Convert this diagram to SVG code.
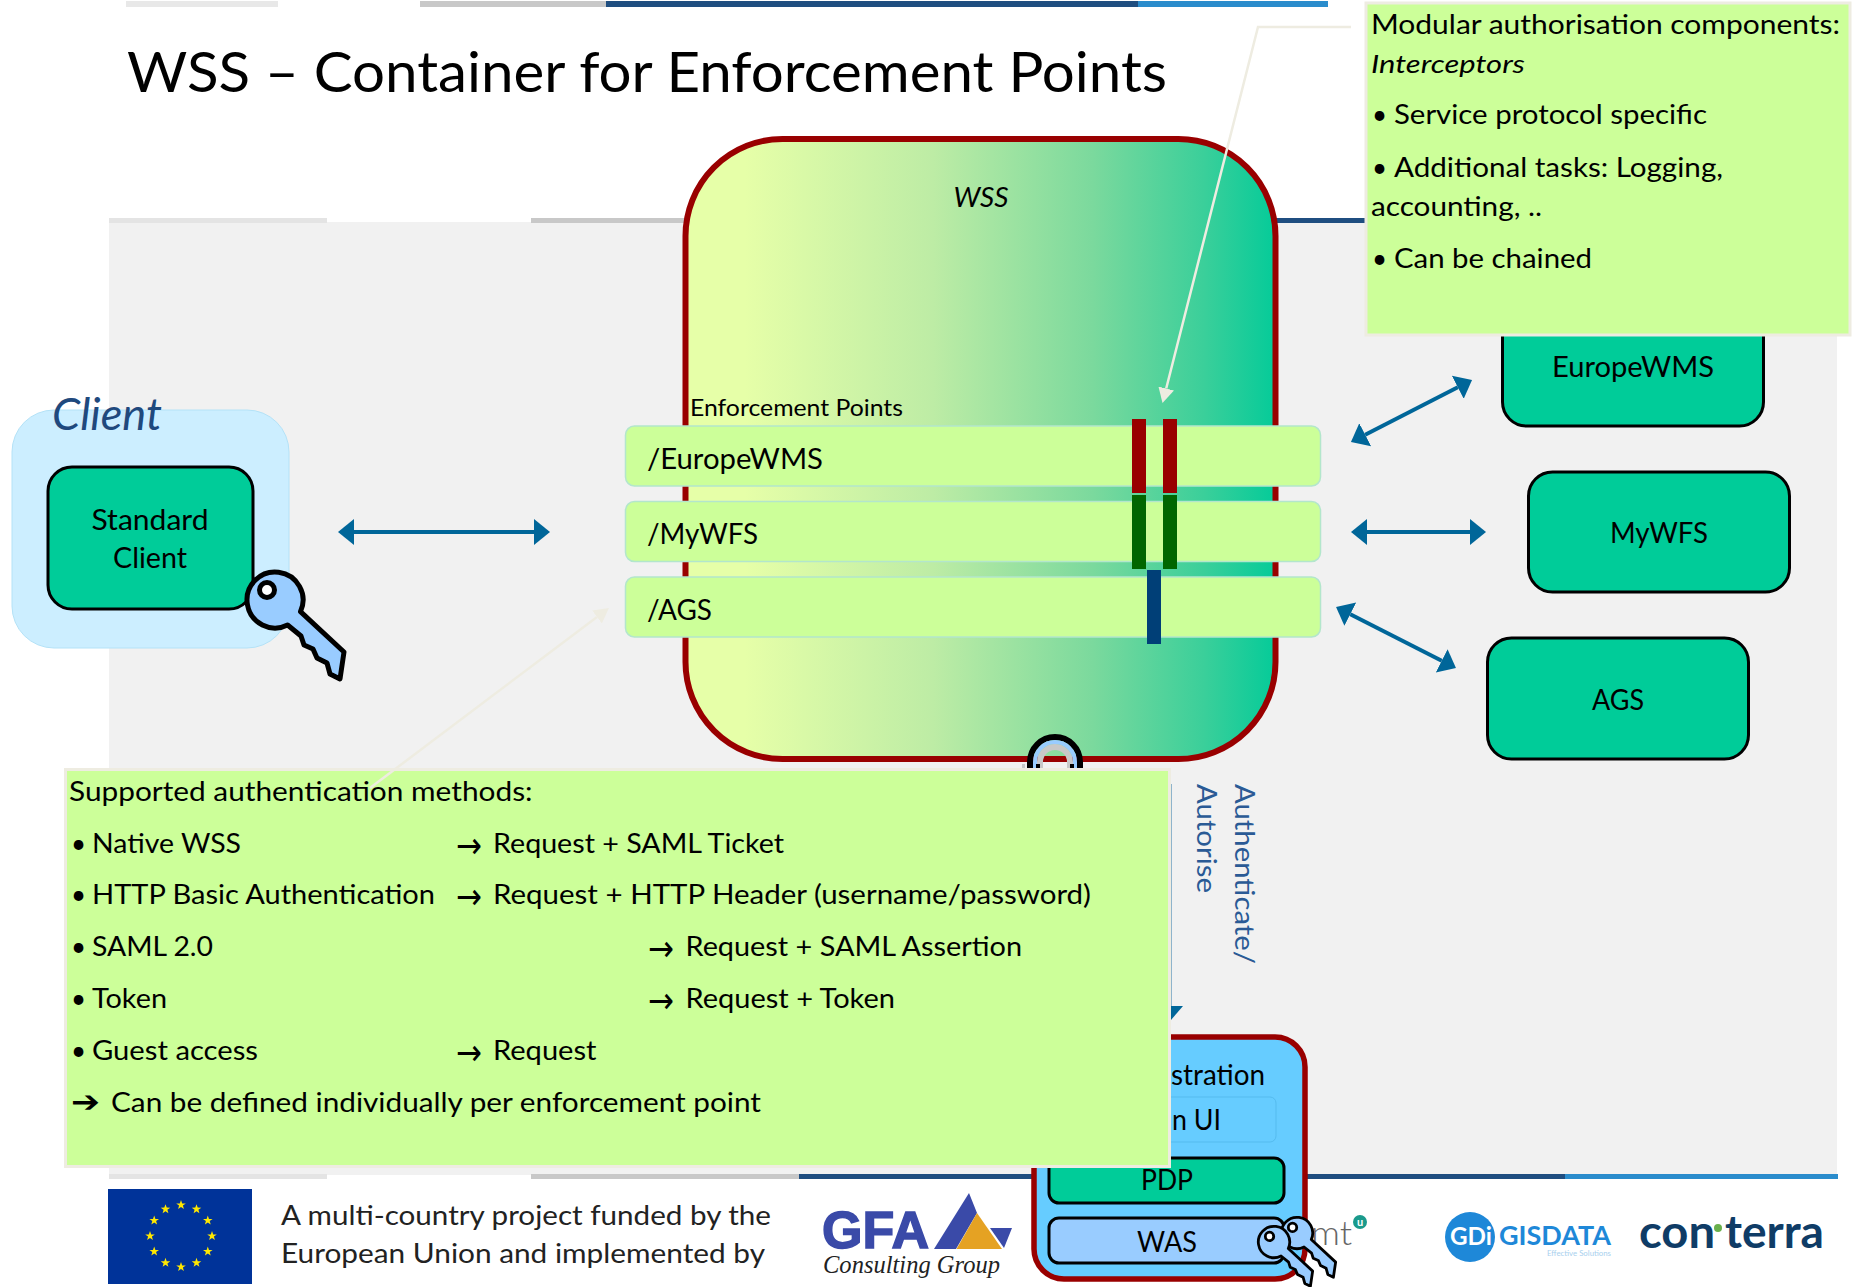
<svg xmlns="http://www.w3.org/2000/svg" xmlns:xlink="http://www.w3.org/1999/xlink" width="1854" height="1287" viewBox="0 0 1854 1287">
<style>
text{font-family:Lato,"Liberation Sans",sans-serif;fill:#000}
.b{font-size:26px}
.l{font-size:29px}
.n{fill:#00cc99;stroke:#000;stroke-width:3}
.bar{fill:#ccff99;stroke:#b3e6cc;stroke-width:1.5}
.call{fill:#ccff99;stroke:#eeece1;stroke-width:3}
.ar{font-family:"DejaVu Sans",sans-serif;font-size:36px}
.arb{font-family:"DejaVu Sans",sans-serif;font-size:30px}
.flow{fill:none;stroke:#006699;stroke-width:4;marker-start:url(#h);marker-end:url(#h)}
.co{fill:none;stroke:#eeece1;stroke-width:2.5;marker-end:url(#c)}
.vt{font-size:27px;fill:#2a5a95}
</style>
<defs>
<linearGradient id="wg" x1="0" y1="0" x2="1" y2="0">
<stop offset="0.1" stop-color="#e6ffa8"/><stop offset="0.42" stop-color="#bdeca5"/><stop offset="0.69" stop-color="#7bd99d"/><stop offset="0.88" stop-color="#3acf9a"/><stop offset="1" stop-color="#05cb99"/>
</linearGradient>
<marker id="h" markerUnits="userSpaceOnUse" markerWidth="20" markerHeight="30" viewBox="0 -15 20 30" refX="0" refY="0" orient="auto-start-reverse"><path d="M0,-13 L16,0 L0,13 z" fill="#006699"/></marker>
<marker id="c" markerUnits="userSpaceOnUse" markerWidth="18" markerHeight="20" viewBox="0 -10 18 20" refX="0" refY="0" orient="auto"><path d="M0,-8 L15,0 L0,8 z" fill="#eeece1"/></marker>
<g id="key">
<path d="M300.500 611.600 L344 652 L340 679 L330 674 L327 663 L317 658 L313 649 L304 645 L301 636 L287.600 625 A28 28 0 1 1 300.500 611.600 Z" fill="#99ccff" stroke="#000" stroke-width="5" stroke-linejoin="round" transform="translate(-275 -600)"/>
<circle cx="-8" cy="-10" r="7.500" fill="#fff" stroke="#000" stroke-width="5"/>
</g>
<polygon id="star" fill="#ffe800" points="0,-5 1.2,-1.6 4.8,-1.5 1.9,.6 2.9,4 0,2 -2.9,4 -1.9,.6 -4.8,-1.5 -1.2,-1.6"/>
</defs>

<rect width="1854" height="1287" fill="#fff"/>
<g id="background">
<rect x="109" y="222" width="1728" height="953" fill="#f1f1f1"/>
<rect x="126" y="1" width="152" height="6" fill="#e8e8e8"/>
<rect x="420" y="1" width="186" height="6" fill="#c8c8c8"/>
<rect x="606" y="1" width="532" height="6" fill="#1f4e80"/>
<rect x="1138" y="1" width="190" height="6" fill="#2a8ccc"/>
<rect x="109" y="218" width="218" height="5" fill="#e4e4e4"/>
<rect x="531" y="218" width="268" height="5" fill="#c8c8c8"/>
<rect x="799" y="218" width="766" height="5" fill="#1f4e80"/>
<rect x="109" y="1174" width="218" height="5" fill="#e4e4e4"/>
<rect x="531" y="1174" width="268" height="5" fill="#c8c8c8"/>
<rect x="799" y="1174" width="766" height="5" fill="#1f4e80"/>
<rect x="1565" y="1174" width="273" height="5" fill="#2a8ccc"/>
</g>
<text id="title" x="127" y="92" font-size="57" textLength="1040" lengthAdjust="spacingAndGlyphs">WSS – Container for Enforcement Points</text>

<g id="client-group">
<rect x="12" y="410" width="277" height="238" rx="42" fill="#cceeff" stroke="#b4e2f7" stroke-width="1"/>
<text x="52" y="430" font-size="44" font-style="italic" style="fill:#1f497d" textLength="110" lengthAdjust="spacingAndGlyphs">Client</text>
</g>
<g id="standard-client">
<rect class="n" x="48" y="467" width="205" height="142" rx="24"/>
<text class="l" x="150" y="530" text-anchor="middle" textLength="117" lengthAdjust="spacingAndGlyphs">Standard</text>
<text class="l" x="150" y="568" text-anchor="middle" textLength="74" lengthAdjust="spacingAndGlyphs">Client</text>
<use href="#key" xlink:href="#key" x="275" y="600"/>
</g>

<g id="wss">
<rect x="685.500" y="139" width="590" height="620" rx="97" fill="url(#wg)" stroke="#990000" stroke-width="6"/>
<text x="953.500" y="207" font-size="27" font-style="italic" textLength="55" lengthAdjust="spacingAndGlyphs">WSS</text>
<text x="690" y="416" font-size="23" textLength="213" lengthAdjust="spacingAndGlyphs">Enforcement Points</text>
</g>
<g id="ep-europewms">
<rect class="bar" x="625.500" y="426" width="695" height="60" rx="9"/>
<text class="l" x="647" y="469" textLength="176" lengthAdjust="spacingAndGlyphs">/EuropeWMS</text>
</g>
<g id="ep-mywfs">
<rect class="bar" x="625.500" y="501.500" width="695" height="60" rx="9"/>
<text class="l" x="647" y="544" textLength="111" lengthAdjust="spacingAndGlyphs">/MyWFS</text>
</g>
<g id="ep-ags">
<rect class="bar" x="625.500" y="577" width="695" height="60" rx="9"/>
<text class="l" x="647" y="620" textLength="65" lengthAdjust="spacingAndGlyphs">/AGS</text>
</g>
<g id="interceptors">
<rect x="1132" y="419" width="14" height="74" fill="#990000"/>
<rect x="1163" y="419" width="14" height="74" fill="#990000"/>
<rect x="1132" y="495" width="14" height="74" fill="#006600"/>
<rect x="1163" y="495" width="14" height="74" fill="#006600"/>
<rect x="1147" y="570" width="14" height="74" fill="#003f77"/>
</g>
<g id="key-ring" fill="none">
<path d="M1023.500 770 V764" stroke="#c8c8c8" stroke-width="3"/>
<path d="M1040 770 V762 A15 15 0 0 1 1070 762 V770" stroke="#c8c8c8" stroke-width="6"/>
<path d="M1030 770 V762 A25 25 0 0 1 1080 762 V770" stroke="#000" stroke-width="6"/>
<path d="M1035 770 V762 A20 20 0 0 1 1075 762 V770" stroke="#99ccff" stroke-width="4"/>
<path d="M1038 770 V764 M1072 770 V764" stroke="#000" stroke-width="4"/>
</g>

<g id="europewms">
<rect class="n" x="1502.500" y="305" width="261" height="121" rx="24"/>
<text class="l" x="1633" y="377" text-anchor="middle" textLength="162" lengthAdjust="spacingAndGlyphs">EuropeWMS</text>
</g>
<g id="mywfs">
<rect class="n" x="1528.500" y="472" width="261" height="120" rx="24"/>
<text class="l" x="1659" y="543" text-anchor="middle" textLength="98" lengthAdjust="spacingAndGlyphs">MyWFS</text>
</g>
<g id="ags">
<rect class="n" x="1487.500" y="638" width="261" height="121" rx="24"/>
<text class="l" x="1618" y="710" text-anchor="middle" textLength="52" lengthAdjust="spacingAndGlyphs">AGS</text>
</g>

<g id="labels">
<text class="vt" transform="translate(1235 784) rotate(90)" textLength="180" lengthAdjust="spacingAndGlyphs">Authenticate/</text>
<text class="vt" transform="translate(1197 784) rotate(90)" textLength="109" lengthAdjust="spacingAndGlyphs">Autorise</text>
</g>

<g id="footer-logos">
<rect x="108" y="1189" width="144" height="95" fill="#003399"/>
<use href="#star" xlink:href="#star" x="181" y="1205"/><use href="#star" xlink:href="#star" x="196.500" y="1209.200"/><use href="#star" xlink:href="#star" x="207.800" y="1220.500"/><use href="#star" xlink:href="#star" x="212" y="1236"/><use href="#star" xlink:href="#star" x="207.800" y="1251.500"/><use href="#star" xlink:href="#star" x="196.500" y="1262.800"/><use href="#star" xlink:href="#star" x="181" y="1267"/><use href="#star" xlink:href="#star" x="165.500" y="1262.800"/><use href="#star" xlink:href="#star" x="154.200" y="1251.500"/><use href="#star" xlink:href="#star" x="150" y="1236"/><use href="#star" xlink:href="#star" x="154.200" y="1220.500"/><use href="#star" xlink:href="#star" x="165.500" y="1209.200"/>
<text class="b" x="281" y="1225" style="fill:#222" textLength="490" lengthAdjust="spacingAndGlyphs">A multi-country project funded by the</text>
<text class="b" x="281" y="1263" style="fill:#222" textLength="484" lengthAdjust="spacingAndGlyphs">European Union and implemented by</text>
<text x="822" y="1248" font-size="52" font-weight="700" style="font-family:'Liberation Sans',sans-serif;fill:#3a4aa8;stroke:#3a4aa8;stroke-width:1.5" textLength="107" lengthAdjust="spacingAndGlyphs">GFA</text>
<path d="M969 1193 L934 1249 L956 1249 L977 1213 Z" fill="#3a4aa8"/>
<path d="M977 1213 L956.500 1249 L1002 1249 Z" fill="#e5a223"/>
<path d="M990 1228 L1012 1228 L1004 1248 Z" fill="#3a4aa8"/>
<text x="823" y="1273" font-size="26" font-style="italic" style="font-family:'Liberation Serif',serif;fill:#222" textLength="177" lengthAdjust="spacingAndGlyphs">Consulting Group</text>
<text x="1311" y="1245" font-size="34" font-weight="300" style="fill:#666" textLength="41" lengthAdjust="spacingAndGlyphs">mt</text>
<circle cx="1360" cy="1222" r="7" fill="#1a9a8c"/>
<text x="1360" y="1226" font-size="11" font-weight="700" text-anchor="middle" style="fill:#fff">u</text>
<circle cx="1470" cy="1237" r="25" fill="#1e88d8"/>
<text x="1450" y="1245" font-size="24" font-weight="700" style="fill:#fff" textLength="42" lengthAdjust="spacingAndGlyphs">GDi</text>
<text x="1499" y="1245" font-size="27" font-weight="700" style="fill:#1e88d8" textLength="112" lengthAdjust="spacingAndGlyphs">GISDATA</text>
<text x="1547" y="1256" font-size="7" style="fill:#a8d0ee" textLength="64" lengthAdjust="spacingAndGlyphs">Effective Solutions</text>
<text y="1248" font-size="46" font-weight="700" style="fill:#0f3c66"><tspan x="1639" textLength="76" lengthAdjust="spacingAndGlyphs">con</tspan><tspan x="1725" textLength="99" lengthAdjust="spacingAndGlyphs">terra</tspan></text>
<circle cx="1718" cy="1228" r="4" fill="#6ab04c"/>
</g>

<g id="administration">
<rect x="1034" y="1037" width="271" height="242" rx="30" fill="#66ccff" stroke="#990000" stroke-width="5.500"/>
<text class="l" x="1265" y="1085" text-anchor="end" textLength="94" lengthAdjust="spacingAndGlyphs">stration</text>
<rect x="1052" y="1097" width="224" height="45" rx="6" fill="#66ccff" stroke="#55bbee" stroke-width="1"/>
<text class="l" x="1221" y="1130" text-anchor="end" textLength="49" lengthAdjust="spacingAndGlyphs">n UI</text>
</g>
<g id="pdp">
<rect x="1049" y="1158" width="235" height="45" rx="10" class="n"/>
<text class="l" x="1167" y="1190" text-anchor="middle" textLength="52" lengthAdjust="spacingAndGlyphs">PDP</text>
</g>
<g id="was">
<rect x="1049" y="1218" width="235" height="45" rx="10" fill="#99ccff" stroke="#000" stroke-width="3"/>
<text class="l" x="1167" y="1252" text-anchor="middle" textLength="60" lengthAdjust="spacingAndGlyphs">WAS</text>
<use href="#key" xlink:href="#key" transform="translate(1297 1233) scale(.56)"/>
<use href="#key" xlink:href="#key" transform="translate(1274 1242) scale(.56)"/>
</g>

<g id="note-auth">
<rect class="call" x="65.500" y="769.500" width="1104" height="397"/>
<text class="b" x="69" y="801" textLength="463.500" lengthAdjust="spacingAndGlyphs">Supported authentication methods:</text>
<text class="b" x="71" y="853">•<tspan x="92" textLength="149" lengthAdjust="spacingAndGlyphs">Native WSS</tspan><tspan class="ar" x="456" dy="5" textLength="26" lengthAdjust="spacingAndGlyphs">→</tspan><tspan x="493" dy="-5" textLength="291" lengthAdjust="spacingAndGlyphs">Request + SAML Ticket</tspan></text>
<text class="b" x="71" y="904">•<tspan x="92" textLength="343" lengthAdjust="spacingAndGlyphs">HTTP Basic Authentication</tspan><tspan class="ar" x="456" dy="5" textLength="26" lengthAdjust="spacingAndGlyphs">→</tspan><tspan x="493" dy="-5" textLength="598" lengthAdjust="spacingAndGlyphs">Request + HTTP Header (username/password)</tspan></text>
<text class="b" x="71" y="956">•<tspan x="92" textLength="121" lengthAdjust="spacingAndGlyphs">SAML 2.0</tspan><tspan class="ar" x="648" dy="5" textLength="26" lengthAdjust="spacingAndGlyphs">→</tspan><tspan x="685.500" dy="-5" textLength="336.500" lengthAdjust="spacingAndGlyphs">Request + SAML Assertion</tspan></text>
<text class="b" x="71" y="1008">•<tspan x="92" textLength="75" lengthAdjust="spacingAndGlyphs">Token</tspan><tspan class="ar" x="648" dy="5" textLength="26" lengthAdjust="spacingAndGlyphs">→</tspan><tspan x="685.500" dy="-5" textLength="209.500" lengthAdjust="spacingAndGlyphs">Request + Token</tspan></text>
<text class="b" x="71" y="1060">•<tspan x="92" textLength="166" lengthAdjust="spacingAndGlyphs">Guest access</tspan><tspan class="ar" x="456" dy="5" textLength="26" lengthAdjust="spacingAndGlyphs">→</tspan><tspan x="493" dy="-5" textLength="103.500" lengthAdjust="spacingAndGlyphs">Request</tspan></text>
<text class="b" y="1112"><tspan class="arb" x="71" textLength="29" lengthAdjust="spacingAndGlyphs">➔</tspan><tspan x="111" textLength="650" lengthAdjust="spacingAndGlyphs">Can be defined individually per enforcement point</tspan></text>
</g>
<g id="note-interceptors">
<rect class="call" x="1366" y="3" width="484" height="332"/>
<text class="b" x="1371" y="34" textLength="469" lengthAdjust="spacingAndGlyphs">Modular authorisation components:</text>
<text class="b" x="1371" y="73" font-style="italic" textLength="154" lengthAdjust="spacingAndGlyphs">Interceptors</text>
<text class="b" x="1372" y="124">•<tspan x="1394" textLength="313" lengthAdjust="spacingAndGlyphs">Service protocol specific</tspan></text>
<text class="b" x="1372" y="177">•<tspan x="1394" textLength="329" lengthAdjust="spacingAndGlyphs">Additional tasks: Logging,</tspan></text>
<text class="b" x="1371" y="216" textLength="171" lengthAdjust="spacingAndGlyphs">accounting, ..</text>
<text class="b" x="1372" y="268">•<tspan x="1394" textLength="198" lengthAdjust="spacingAndGlyphs">Can be chained</tspan></text>
</g>

<g id="connectors">
<line class="flow" x1="354" y1="532" x2="534" y2="532"/>
<line class="flow" x1="1365.200" y1="434.700" x2="1457.800" y2="387.300"/>
<line class="flow" x1="1367" y1="532" x2="1470" y2="532"/>
<line class="flow" x1="1350.300" y1="614.200" x2="1441.700" y2="660.800"/>
<path class="co" d="M1351 27 H1258 L1166.200 388.500"/>
<path class="co" d="M370 788 L597 617"/>
<line x1="1171.500" y1="784" x2="1171.500" y2="1006" stroke="#8fb4cc" stroke-width="1"/>
<path d="M1171 1006 H1183 L1171 1020 Z" fill="#006699"/>
</g>
</svg>
